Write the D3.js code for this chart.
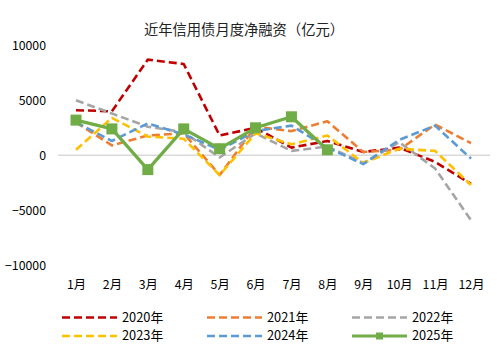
<!DOCTYPE html>
<html><head><meta charset="utf-8">
<script src="https://cdn.jsdelivr.net/npm/d3@7"></script>
<style>body{margin:0;background:#fff;}svg{display:block;}text{font-family:"Noto Sans CJK SC","Noto Sans",sans-serif;fill:#000;}</style>
</head><body><svg id="c" width="497" height="349"></svg>
<script>
const months = ["1月","2月","3月","4月","5月","6月","7月","8月","9月","10月","11月","12月"];
const yTicks = [-10000,-5000,0,5000,10000];
const s2020 = [4100,4000,8700,8300,1800,2500,700,1300,300,700,-600,-2600];
const s2021 = [3000,900,1800,2000,-1800,2600,2200,3100,300,500,2800,1100];
const s2022 = [5000,3800,2600,2100,-200,2000,400,800,-700,1200,-1200,-5900];
const s2023 = [500,3400,1700,1500,-1800,2000,1000,1800,-700,600,400,-2700];
const s2024 = [3000,1300,2900,1900,500,2200,2700,700,-800,1400,2700,-300];
const s2025 = [3200,2400,-1300,2400,600,2500,3500,500];
const seriesNames = ["2020年","2021年","2022年","2023年","2024年","2025年"];
const colors = ["#C00000","#ED7D31","#A5A5A5","#FFC000","#5B9BD5","#70AD47"];
const allSeries = [s2020,s2021,s2022,s2023,s2024,s2025];

const svg = d3.select("#c");
const x = d3.scalePoint().domain(months).range([76,471]);
const y = d3.scaleLinear().domain([-10000,10000]).range([265.3,45.3]);

svg.append("text").attr("x",244).attr("y",35).attr("text-anchor","middle")
  .style("font-size","14.3px").style("fill","#222").text("近年信用债月度净融资（亿元）");

// y axis labels
const ya = svg.append("g").attr("transform","translate(46,0)")
  .call(d3.axisLeft(y).tickValues(yTicks).tickSize(0).tickPadding(0).tickFormat(d3.format("d")));
ya.select(".domain").remove();
ya.selectAll("text").style("font-size","12.3px").style("font-family",'"Noto Sans CJK SC","Noto Sans",sans-serif');

// zero line
svg.append("line").attr("x1",58).attr("x2",490).attr("y1",y(0)).attr("y2",y(0))
  .attr("stroke","#D9D9D9").attr("stroke-width",1.5);

// x axis labels
const xa = svg.append("g").attr("transform","translate(0,278)")
  .call(d3.axisBottom(x).tickSize(0).tickPadding(0));
xa.select(".domain").remove();
xa.selectAll("text").attr("dy","0.35em").attr("y",7).style("font-size","12.3px").style("font-family",'"Noto Sans CJK SC","Noto Sans",sans-serif');

const line = d3.line().x((d,i)=>x(months[i])).y(d=>y(d));

allSeries.forEach((s,k)=>{
  const p = svg.append("path").datum(s).attr("d",line).attr("fill","none")
    .attr("stroke",colors[k]).attr("stroke-linejoin","round");
  if(k<5){ p.attr("stroke-width",2.6).attr("stroke-dasharray","8,4"); }
  else { p.attr("stroke-width",3.2); }
});
// markers for 2025
svg.selectAll("rect.m").data(s2025).enter().append("rect")
  .attr("x",(d,i)=>x(months[i])-5.5).attr("y",d=>y(d)-5.5)
  .attr("width",11).attr("height",11).attr("fill","#70AD47");

// legend
const legX = [62,207,352], legY = [317.5,336];
seriesNames.forEach((n,k)=>{
  const lx = legX[k%3], ly = legY[Math.floor(k/3)];
  const g = svg.append("g");
  const l = g.append("line").attr("x1",lx).attr("x2",lx+55).attr("y1",ly).attr("y2",ly)
    .attr("stroke",colors[k]);
  if(k<5){ l.attr("stroke-width",2.6).attr("stroke-dasharray","8,4"); }
  else {
    l.attr("stroke-width",3.2);
    g.append("rect").attr("x",lx+27.5-3.5).attr("y",ly-3.5).attr("width",7).attr("height",7).attr("fill",colors[k]);
  }
  g.append("text").attr("x",lx+60).attr("y",ly).attr("dy","0.35em").style("font-size","12.8px").text(n);
});
</script></body></html>
